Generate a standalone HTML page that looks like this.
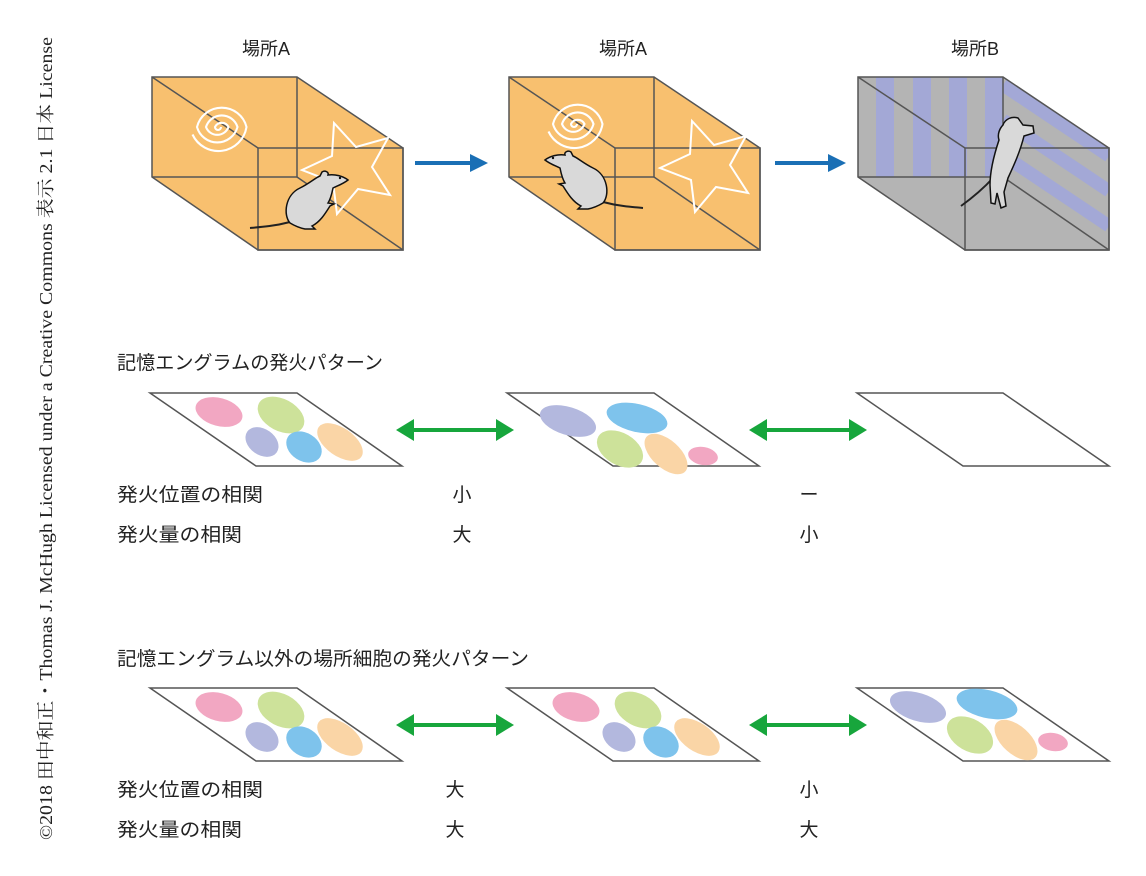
<!DOCTYPE html>
<html><head><meta charset="utf-8"><style>
html,body{margin:0;padding:0;background:#fff;}
svg{display:block;}
text{font-family:"Liberation Sans","Noto Sans CJK JP",sans-serif;}
</style></head><body>
<svg width="1146" height="876" viewBox="0 0 1146 876" xmlns="http://www.w3.org/2000/svg">
<defs>
<g id="mouse">
<path d="M290,222 C275,226 262,227 250,228" fill="none" stroke="#222" stroke-width="2"/>
<path d="M290,223 C283,215 285,195 300,188 C310,183 315,178 320,176 L322,172 C325,170 329,172 328,175 C335,174 343,176 348,180 C343,184 337,186 333,188 C332,193 330,200 328,203 L334,204 L330,206 C325,214 320,222 312,226 L315,229 L305,229 C300,228 295,226 290,223 Z" fill="#d9d9d9" stroke="#111" stroke-width="1.5"/>
<circle cx="340" cy="178" r="1.2" fill="#111"/>
</g>
<path id="spiral" d="M0,0 m2,0 a2,2 0 0 1 -4,0 a5,5 0 0 1 9,0 a8,8 0 0 1 -15,0 a11,11 0 0 1 21,0 a14,14 0 0 1 -27,0 a17,17 0 0 1 33,0 a19,19 0 0 1 -36,5" fill="none" stroke="#fff" stroke-width="1.4"/>
<path id="star" d="M-16,-45 L6,-21 L38,-30 L22,-1 L40,27 L8,21 L-13,46 L-17,14 L-48,2 L-18,-12 Z" fill="none" stroke="#fff" stroke-width="2"/>
<clipPath id="c3back"><rect x="858" y="77" width="145" height="100"/></clipPath>
<clipPath id="c3right"><polygon points="1003,77 1109,148 1109,250 1003,177"/></clipPath>
</defs>

<!-- copyright -->
<text transform="translate(52,840) rotate(-90)" style="font-family:'Liberation Serif','Noto Serif CJK SC',serif" font-size="18" textLength="803" lengthAdjust="spacingAndGlyphs" fill="#222">©2018 田中和正・Thomas J. McHugh Licensed under a Creative Commons 表示 2.1 日本 License</text>

<!-- titles -->
<text x="266" y="55" font-size="18" text-anchor="middle" fill="#222">場所A</text>
<text x="623" y="55" font-size="18" text-anchor="middle" fill="#222">場所A</text>
<text x="975" y="55" font-size="18" text-anchor="middle" fill="#222">場所B</text>

<!-- box 1 -->
<g stroke="#555" stroke-width="1.5">
<polygon points="152,77 297,77 403,148 403,250 258,250 152,177" fill="#f8c06f"/>
<line x1="152" y1="77" x2="258" y2="148"/>
<line x1="297" y1="77" x2="297" y2="177"/>
<line x1="152" y1="177" x2="297" y2="177"/>
<line x1="297" y1="177" x2="403" y2="250"/>
<rect x="258" y="148" width="145" height="102" fill="none"/>
</g>
<use href="#spiral" transform="translate(218,127) scale(1.5)"/>
<use href="#star" transform="translate(350,168)"/>
<use href="#mouse"/>

<!-- box 2 -->
<g stroke="#555" stroke-width="1.5">
<polygon points="509,77 654,77 760,148 760,250 615,250 509,177" fill="#f8c06f"/>
<line x1="509" y1="77" x2="615" y2="148"/>
<line x1="654" y1="77" x2="654" y2="177"/>
<line x1="509" y1="177" x2="654" y2="177"/>
<line x1="654" y1="177" x2="760" y2="250"/>
<rect x="615" y="148" width="145" height="102" fill="none"/>
</g>
<use href="#spiral" transform="translate(574,124) scale(1.5)"/>
<use href="#star" transform="translate(708,166)"/>
<use href="#mouse" transform="translate(893,-20) scale(-1,1)"/>

<!-- box 3 -->
<polygon points="858,77 1003,77 1109,148 1109,250 965,250 858,177" fill="#b4b4b4"/>
<g clip-path="url(#c3back)" fill="#a3a8d6">
<rect x="876" y="77" width="18" height="100"/>
<rect x="913" y="77" width="18" height="100"/>
<rect x="949" y="77" width="18" height="100"/>
<rect x="985" y="77" width="18" height="100"/>
</g>
<g clip-path="url(#c3right)" stroke="#a3a8d6" stroke-width="13">
<line x1="1003" y1="85" x2="1109" y2="156"/>
<line x1="1003" y1="120" x2="1109" y2="191"/>
<line x1="1003" y1="155" x2="1109" y2="226"/>
<line x1="1003" y1="190" x2="1109" y2="261"/>
</g>
<g stroke="#555" stroke-width="1.5" fill="none">
<polygon points="858,77 1003,77 1109,148 1109,250 965,250 858,177"/>
<line x1="858" y1="77" x2="965" y2="148"/>
<line x1="1003" y1="77" x2="1003" y2="177"/>
<line x1="858" y1="177" x2="1003" y2="177"/>
<line x1="1003" y1="177" x2="1109" y2="250"/>
<rect x="965" y="148" width="144" height="102"/>
</g>
<path d="M993,178 C982,190 972,198 961,206" fill="none" stroke="#222" stroke-width="2"/>
<path d="M1003,125 C1005,119 1012,116 1018,118 L1023,125 L1033,126 L1034,133 L1024,136 C1020,152 1014,165 1008,178 L1004,192 L1006,206 L1001,208 L997,193 L995,204 L991,203 L990,185 C990,170 995,152 999,140 C997,134 1000,128 1003,125 Z" fill="#d9d9d9" stroke="#111" stroke-width="1.5"/>

<!-- blue arrows -->
<line x1="415" y1="163" x2="472" y2="163" stroke="#1a6fb5" stroke-width="4"/>
<polygon points="470,154 488,163 470,172" fill="#1a6fb5"/>
<line x1="775" y1="163" x2="830" y2="163" stroke="#1a6fb5" stroke-width="4"/>
<polygon points="828,154 846,163 828,172" fill="#1a6fb5"/>

<!-- section 1 -->
<text x="117" y="369" font-size="19" textLength="266" lengthAdjust="spacingAndGlyphs" fill="#222">記憶エングラムの発火パターン</text>
<g stroke="#555" stroke-width="1.5" fill="#fff">
<polygon points="150,393 297,393 402,466 256,466"/>
<polygon points="507,393 654,393 759,466 613,466"/>
<polygon points="857,393 1003,393 1109,466 963,466"/>
</g>
<g id="setA">
<ellipse cx="219" cy="412" rx="24" ry="14" transform="rotate(15 219 412)" fill="#f2a7c2"/>
<ellipse cx="281" cy="415" rx="25" ry="16" transform="rotate(28 281 415)" fill="#cde29a"/>
<ellipse cx="262" cy="442" rx="18" ry="13" transform="rotate(35 262 442)" fill="#b3b8de"/>
<ellipse cx="304" cy="447" rx="19" ry="14" transform="rotate(32 304 447)" fill="#7ec3ec"/>
<ellipse cx="340" cy="442" rx="26" ry="14" transform="rotate(35 340 442)" fill="#fad5a6"/>
</g>
<g id="setB">
<ellipse cx="568" cy="421" rx="29" ry="14" transform="rotate(17 568 421)" fill="#b3b8de"/>
<ellipse cx="637" cy="418" rx="31" ry="14" transform="rotate(13 637 418)" fill="#7ec3ec"/>
<ellipse cx="620" cy="449" rx="25" ry="16" transform="rotate(30 620 449)" fill="#cde29a"/>
<ellipse cx="666" cy="454" rx="26" ry="14" transform="rotate(42 666 454)" fill="#fad5a6"/>
<ellipse cx="703" cy="456" rx="15" ry="9" transform="rotate(10 703 456)" fill="#f2a7c2"/>
</g>
<g fill="#17a63c">
<line x1="410" y1="430" x2="500" y2="430" stroke="#17a63c" stroke-width="4"/>
<polygon points="396,430 414,419 414,441"/><polygon points="514,430 496,419 496,441"/>
<line x1="762" y1="430" x2="853" y2="430" stroke="#17a63c" stroke-width="4"/>
<polygon points="749,430 767,419 767,441"/><polygon points="867,430 849,419 849,441"/>
</g>
<text x="117" y="501" font-size="19" textLength="146" lengthAdjust="spacingAndGlyphs" fill="#222">発火位置の相関</text>
<text x="117" y="541" font-size="19" textLength="125" lengthAdjust="spacingAndGlyphs" fill="#222">発火量の相関</text>
<text x="462" y="501" font-size="19" text-anchor="middle" fill="#222">小</text>
<text x="462" y="541" font-size="19" text-anchor="middle" fill="#222">大</text>
<text x="809" y="501" font-size="19" text-anchor="middle" fill="#222">ー</text>
<text x="809" y="541" font-size="19" text-anchor="middle" fill="#222">小</text>

<!-- section 2 -->
<text x="117" y="665" font-size="19" textLength="412" lengthAdjust="spacingAndGlyphs" fill="#222">記憶エングラム以外の場所細胞の発火パターン</text>
<g stroke="#555" stroke-width="1.5" fill="#fff">
<polygon points="150,688 297,688 402,761 256,761"/>
<polygon points="507,688 654,688 759,761 613,761"/>
<polygon points="857,688 1003,688 1109,761 963,761"/>
</g>
<use href="#setA" transform="translate(0,295)"/>
<use href="#setA" transform="translate(357,295)"/>
<use href="#setB" transform="translate(350,286)"/>
<g fill="#17a63c">
<line x1="410" y1="725" x2="500" y2="725" stroke="#17a63c" stroke-width="4"/>
<polygon points="396,725 414,714 414,736"/><polygon points="514,725 496,714 496,736"/>
<line x1="762" y1="725" x2="853" y2="725" stroke="#17a63c" stroke-width="4"/>
<polygon points="749,725 767,714 767,736"/><polygon points="867,725 849,714 849,736"/>
</g>
<text x="117" y="796" font-size="19" textLength="146" lengthAdjust="spacingAndGlyphs" fill="#222">発火位置の相関</text>
<text x="117" y="836" font-size="19" textLength="125" lengthAdjust="spacingAndGlyphs" fill="#222">発火量の相関</text>
<text x="455" y="796" font-size="19" text-anchor="middle" fill="#222">大</text>
<text x="455" y="836" font-size="19" text-anchor="middle" fill="#222">大</text>
<text x="809" y="796" font-size="19" text-anchor="middle" fill="#222">小</text>
<text x="809" y="836" font-size="19" text-anchor="middle" fill="#222">大</text>
</svg>
</body></html>
